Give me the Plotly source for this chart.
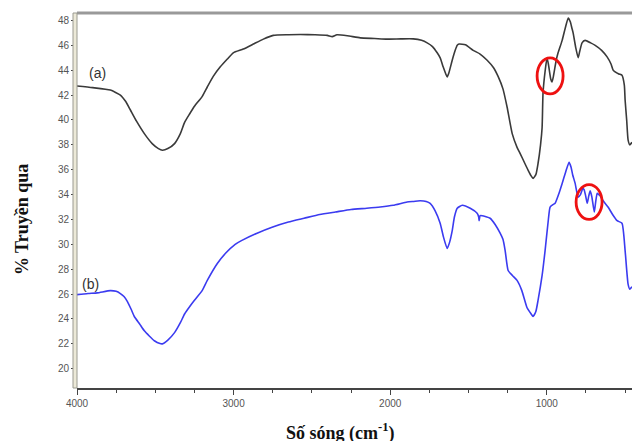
import plotly.graph_objects as go

# Curve (a)
wn_a = [4000, 3900, 3787, 3723, 3690, 3659, 3620, 3570, 3520, 3480, 3455, 3420, 3377, 3340, 3313,
        3280, 3250, 3200, 3168, 3130, 3085, 3040, 3002, 2938, 2874, 2810, 2747, 2650, 2574, 2480,
        2402, 2370, 2340, 2274, 2191, 2100, 2019, 1930, 1853, 1800, 1764, 1730, 1700, 1680, 1662,
        1645, 1636, 1625, 1604, 1585, 1572, 1560, 1520, 1470, 1426, 1381, 1340, 1311, 1280, 1253,
        1221, 1190, 1170, 1140, 1119, 1100, 1088, 1070, 1056, 1040, 1030, 1024, 1010, 999, 990,
        975, 967, 958, 940, 928, 902, 880, 863, 850, 840, 832, 815, 800, 790, 775, 755, 720, 691,
        650, 615, 590, 576, 540, 520, 505, 500, 490, 481, 470, 456]
t_a = [42.73, 42.6, 42.4, 42.0, 41.5, 40.8, 39.9, 38.9, 38.1, 37.7, 37.57, 37.7, 38.1, 38.9, 39.8,
       40.5, 41.1, 41.9, 42.65, 43.5, 44.27, 44.9, 45.4, 45.7, 46.1, 46.5, 46.8, 46.85, 46.87, 46.85,
       46.8, 46.7, 46.85, 46.77, 46.6, 46.55, 46.5, 46.52, 46.52, 46.4, 46.2, 45.9, 45.4, 44.97, 44.27,
       43.7, 43.46, 43.8, 44.8, 45.6, 46.0, 46.1, 46.05, 45.6, 45.3, 44.8, 44.2, 43.5, 42.5, 41.0,
       38.9, 37.8, 37.3, 36.5, 35.95, 35.5, 35.3, 35.6, 36.5, 38.0, 39.4, 42.2, 44.0, 44.97, 44.5,
       43.3, 43.05, 43.5, 44.8, 45.4, 46.4, 47.5, 48.2, 47.9, 47.4, 47.0, 45.8, 45.0, 45.5, 46.2, 46.4,
       46.2, 46.0, 45.6, 45.07, 44.5, 44.0, 43.7, 43.6, 42.8, 41.6, 40.0, 38.4, 38.0, 38.2]

# Curve (b)
wn_b = [4000, 3930, 3870, 3787, 3750, 3723, 3700, 3678, 3655, 3634, 3600, 3570, 3506, 3470, 3455,
        3420, 3377, 3340, 3313, 3280, 3250, 3200, 3168, 3104, 3050, 2990, 2950, 2850, 2750, 2650,
        2550, 2450, 2350, 2250, 2150, 2064, 1981, 1892, 1850, 1809, 1770, 1745, 1713, 1681, 1660,
        1636, 1620, 1604, 1590, 1572, 1540, 1489, 1445, 1435, 1432, 1426, 1413, 1362, 1330, 1298,
        1280, 1266, 1247, 1220, 1190, 1160, 1126, 1100, 1088, 1070, 1056, 1030, 1011, 990, 979, 960,
        947, 925, 902, 880, 858, 845, 835, 819, 800, 785, 770, 762, 752, 742, 732, 723, 712, 697,
        688, 678, 668, 660, 640, 609, 580, 551, 520, 500, 481, 470, 456]
t_b = [25.96, 26.05, 26.1, 26.28, 26.22, 26.04, 25.8, 25.4, 24.8, 24.2, 23.6, 23.05, 22.25, 22.02, 22.0,
       22.3, 22.9, 23.7, 24.4, 25.0, 25.5, 26.3, 27.1, 28.46, 29.3, 30.0, 30.3, 30.9, 31.4, 31.8,
       32.1, 32.4, 32.6, 32.8, 32.9, 33.0, 33.14, 33.4, 33.45, 33.5, 33.45, 33.3, 32.7, 31.7, 30.6,
       29.66, 30.2, 31.1, 32.2, 32.9, 33.14, 32.9, 32.5, 32.2, 31.9, 32.3, 32.3, 32.1, 31.6, 30.9,
       30.4, 29.5, 27.9, 27.5, 27.1, 26.3, 24.9, 24.4, 24.2, 24.6, 25.5, 27.5, 29.5, 32.0, 33.0, 33.2,
       33.3, 34.0, 34.9, 35.8, 36.6, 36.2, 35.6, 34.9, 33.8, 34.0, 34.5, 34.4, 33.9, 33.3, 33.9, 34.3,
       33.8, 32.6, 33.4, 34.1, 34.0, 33.9, 33.5, 33.0, 32.4, 31.9, 31.7, 29.5, 26.8, 26.4, 26.6]

x_ticks = [4000, 3000, 2000, 1000]
x_tick_labels = ["4000", "3000", "2000", "1000"]
y_ticks = [20, 22, 24, 26, 28, 30, 32, 34, 36, 38, 40, 42, 44, 46, 48]

# marked regions (center wn, center T, half-width wn, half-height T)
circles = [(979, 43.54, 83, 1.45), (730, 33.4, 83, 1.4)]

fig = go.Figure()
fig.add_trace(go.Scatter(x=wn_a, y=t_a, mode="lines",
                         line=dict(color="#3a3a3a", width=1.6, shape="spline", smoothing=0.5),
                         showlegend=False, hoverinfo="skip"))
fig.add_trace(go.Scatter(x=wn_b, y=t_b, mode="lines",
                         line=dict(color="#3b3bf0", width=1.6, shape="spline", smoothing=0.5),
                         showlegend=False, hoverinfo="skip"))

for cx, cy, rx, ry in circles:
    fig.add_shape(type="circle", xref="x", yref="y", x0=cx + rx, x1=cx - rx, y0=cy - ry, y1=cy + ry,
                  line=dict(color="#ee1111", width=2.8))

# frame decorations
fig.add_shape(type="line", xref="paper", yref="paper", x0=0, x1=1, y0=1, y1=1,
              line=dict(color="#999999", width=3))
fig.add_shape(type="rect", xref="paper", yref="paper", x0=-4 / 555, x1=0, y0=0, y1=1,
              fillcolor="#ece9d8", line=dict(color="#9a9a90", width=1), layer="above")

fig.add_annotation(x=3870, y=43.8, xref="x", yref="y", text="(a)", showarrow=False,
                   font=dict(family="Liberation Sans", size=14, color="#333333"))
fig.add_annotation(x=3915, y=26.8, xref="x", yref="y", text="(b)", showarrow=False,
                   font=dict(family="Liberation Sans", size=14, color="#333333"))

fig.add_annotation(x=-0.099, y=0.448, xref="paper", yref="paper", text="<b>% Truyền qua</b>",
                   showarrow=False, textangle=-90, xanchor="center", yanchor="middle",
                   font=dict(family="Liberation Serif", size=18, color="#111111"))
fig.add_annotation(x=0.474, y=-0.117, xref="paper", yref="paper",
                   text="<b>Số sóng (cm<sup>-1</sup>)</b>", showarrow=False,
                   xanchor="center", yanchor="middle",
                   font=dict(family="Liberation Serif", size=18, color="#111111"))

fig.update_layout(
    width=632, height=441,
    margin=dict(l=77, r=0, t=13, b=53),
    paper_bgcolor="white", plot_bgcolor="white",
    xaxis=dict(range=[4000, 456], tickvals=x_ticks, ticktext=x_tick_labels,
               showgrid=False, zeroline=False, showline=True, linecolor="#444444", linewidth=2,
               ticks="outside", ticklen=5, tickcolor="#444444",
               minor=dict(tickvals=[3750, 3500, 3250, 2750, 2500, 2250, 1750, 1500, 1250, 750, 500],
                          ticks="outside", ticklen=3, tickcolor="#444444"),
               tickfont=dict(family="Liberation Sans", size=10, color="#555555")),
    yaxis=dict(range=[18.45, 48.6], tickvals=y_ticks,
               showgrid=False, zeroline=False, showline=False,
               ticks="outside", ticklen=5, tickcolor="#444444",
               minor=dict(dtick=0.5, tick0=0, ticks="outside", ticklen=3, tickcolor="#444444"),
               tickfont=dict(family="Liberation Sans", size=10, color="#555555")),
)

fig.write_html("out.html")
